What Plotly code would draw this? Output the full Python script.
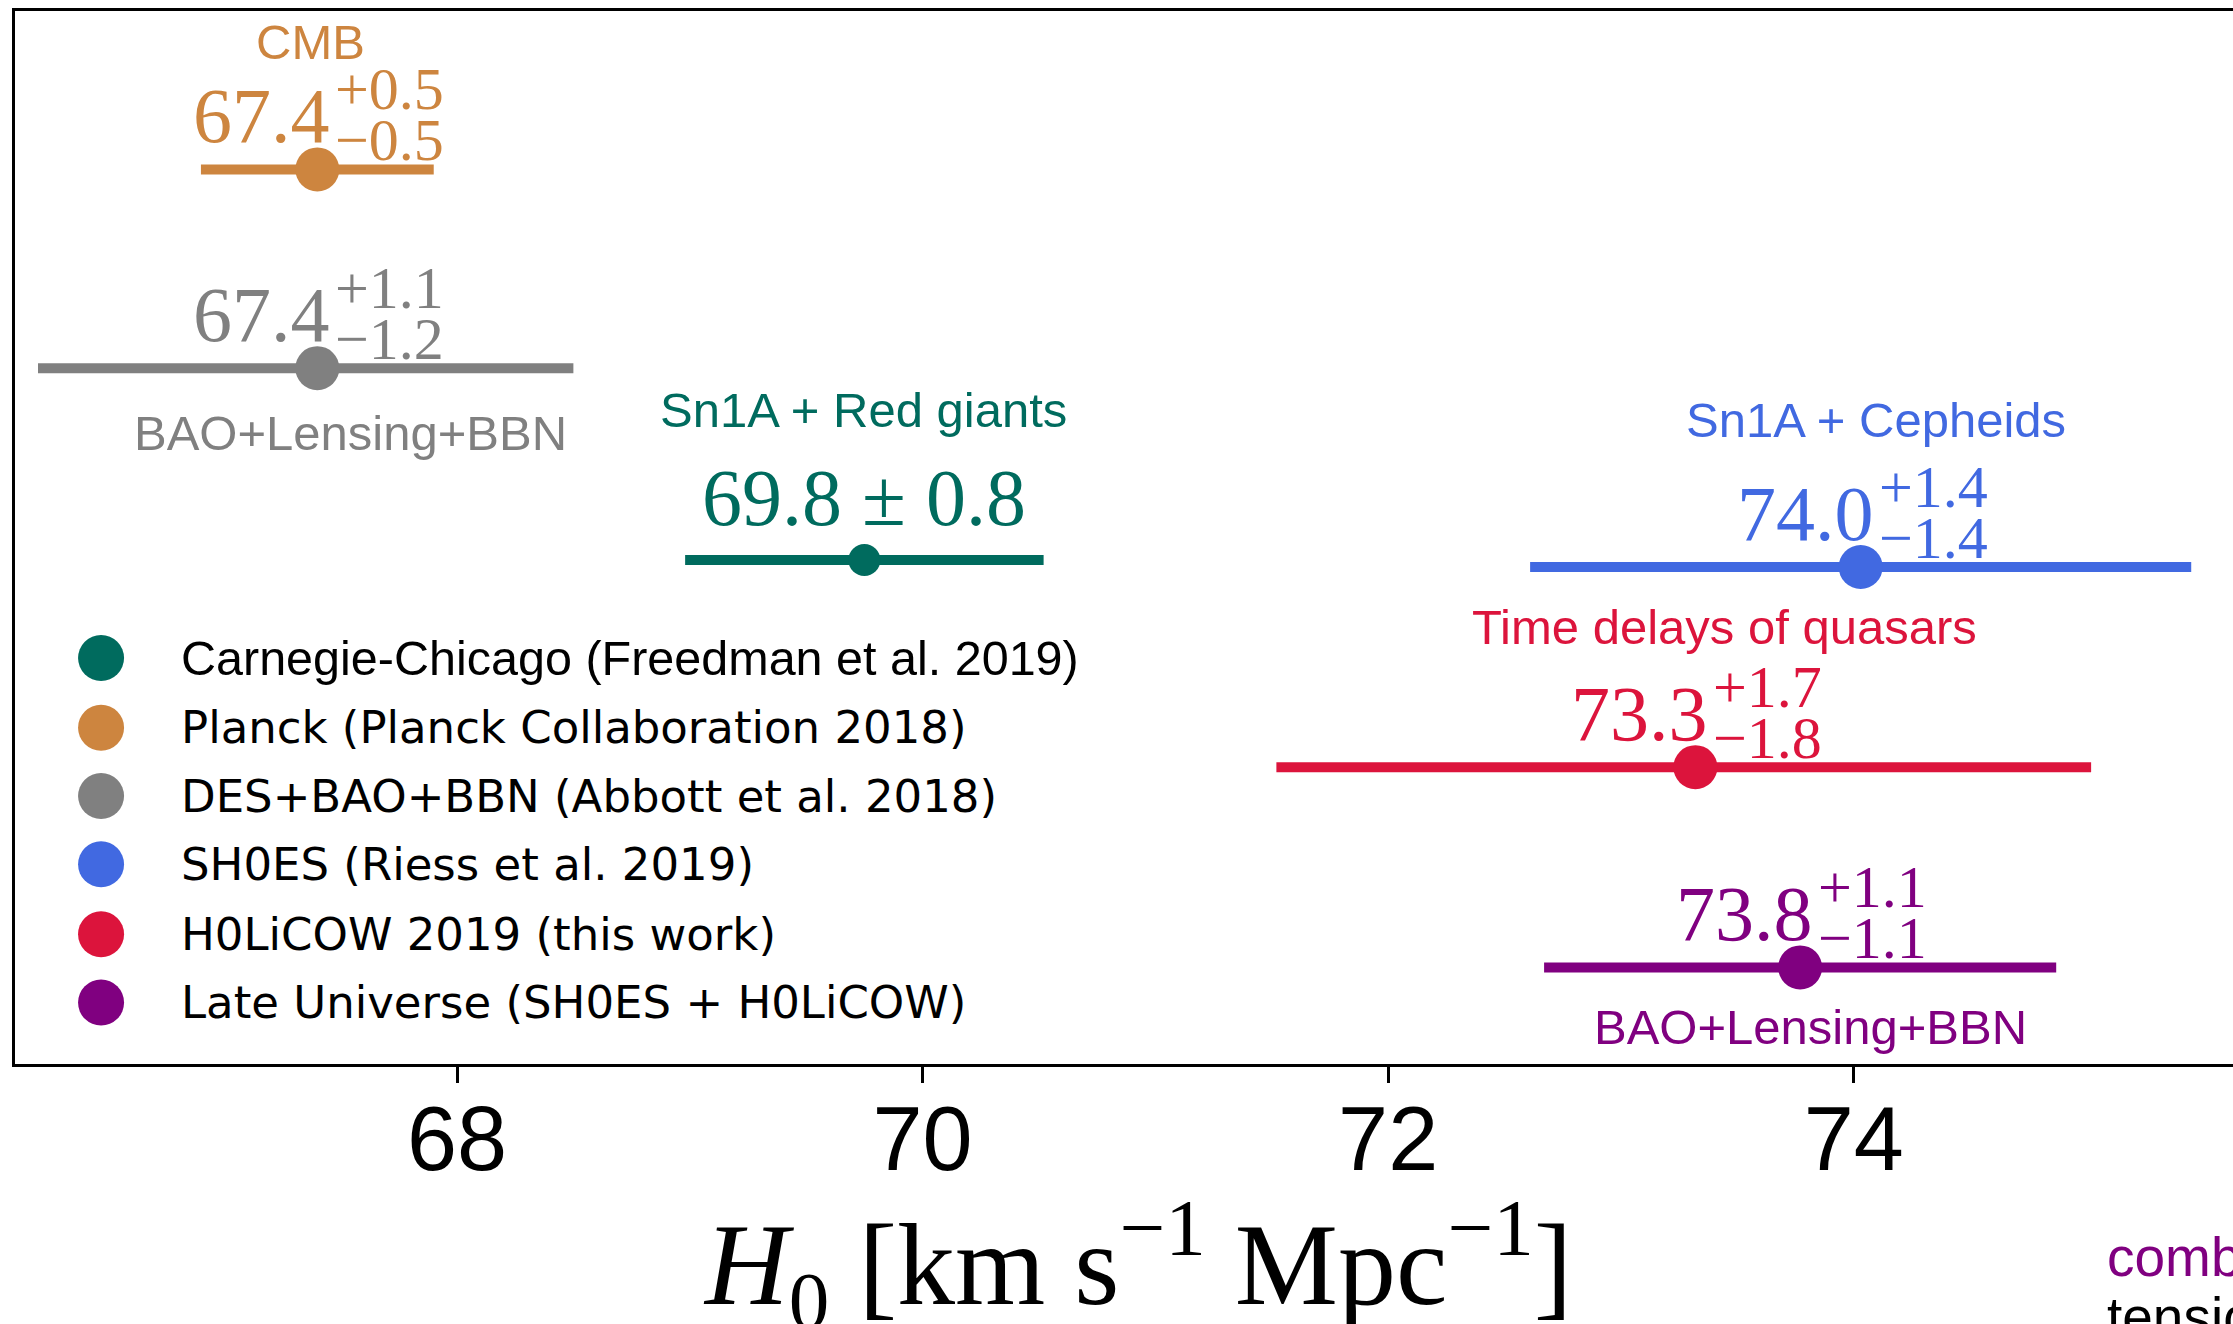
import plotly.graph_objects as go

# ---------------- data ----------------
names = [
    "Carnegie-Chicago (Freedman et al. 2019)",
    "Planck (Planck Collaboration 2018)",
    "DES+BAO+BBN (Abbott et al. 2018)",
    "SH0ES (Riess et al. 2019)",
    "H0LiCOW 2019 (this work)",
    "Late Universe (SH0ES + H0LiCOW)",
]
probes = [
    "Sn1A + Red giants",
    "CMB",
    "BAO+Lensing+BBN",
    "Sn1A + Cepheids",
    "Time delays of quasars",
    "BAO+Lensing+BBN",
]
h0 = [69.75, 67.4, 67.4, 74.03, 73.32, 73.77]
err_plus = [0.77, 0.5, 1.1, 1.42, 1.7, 1.1]
err_minus = [0.77, 0.5, 1.2, 1.42, 1.8, 1.1]
row_y = [3.60, 6.39, 4.97, 3.55, 2.12, 0.69]
value_main = ["69.8 ± 0.8", "67.4", "67.4", "74.0", "73.3", "73.8"]
value_sup = ["", "+0.5", "+1.1", "+1.4", "+1.7", "+1.1"]
value_sub = ["", "−0.5", "−1.2", "−1.4", "−1.8", "−1.1"]
colors = ["#006B5E", "#CD853F", "#808080", "#4169E1", "#DC143C", "#800080"]

xticks = [68, 70, 72, 74]

# ---------------- style ----------------
marker_sizes = [32, 44, 44, 44, 44, 44]
# probe-label offsets (px) relative to the point
probe_shift = [(-1, 150), (-7, 127), (33, -65), (15, 147), (29, 140), (10, -60)]

fig = go.Figure()

for i in range(len(names)):
    fig.add_trace(go.Scatter(
        x=[h0[i]], y=[row_y[i]], mode="markers",
        marker=dict(size=marker_sizes[i], color=colors[i]),
        error_x=dict(type="data", symmetric=False, array=[err_plus[i]],
                     arrayminus=[err_minus[i]], color=colors[i],
                     thickness=10, width=0),
        showlegend=False, hoverinfo="skip",
    ))

# manual legend on an overlay axis
leg_y = [0.3856, 0.3194, 0.2545, 0.1896, 0.1233, 0.0583]
fig.add_trace(go.Scatter(
    x=[0.0388] * len(names), y=leg_y, mode="markers",
    marker=dict(size=46, color=colors),
    xaxis="x2", yaxis="y2", showlegend=False, hoverinfo="skip",
))

annotations = []
for i in range(len(names)):
    annotations.append(dict(
        x=0.0739, y=leg_y[i], xref="paper", yref="paper",
        text=names[i], showarrow=False, xanchor="left", yanchor="middle",
        font=dict(family="Liberation Sans" if i == 0 else "DejaVu Sans",
                  size=48.5 if i == 0 else 45, color="black"),
    ))
    dx, dy = probe_shift[i]
    annotations.append(dict(
        x=h0[i], y=row_y[i], xref="x", yref="y", text=probes[i],
        showarrow=False, xanchor="center", yanchor="middle",
        xshift=dx, yshift=dy,
        font=dict(family="Liberation Sans", size=49, color=colors[i]),
    ))
    if value_sup[i]:
        annotations.append(dict(
            x=h0[i], y=row_y[i], xref="x", yref="y", text=value_main[i],
            showarrow=False, xanchor="right", yanchor="middle",
            xshift=15, yshift=54,
            font=dict(family="Liberation Serif", size=78, color=colors[i]),
        ))
        annotations.append(dict(
            x=h0[i], y=row_y[i], xref="x", yref="y", text=value_sup[i],
            showarrow=False, xanchor="left", yanchor="middle",
            xshift=16, yshift=80,
            font=dict(family="Liberation Serif", size=60, color=colors[i]),
        ))
        annotations.append(dict(
            x=h0[i], y=row_y[i], xref="x", yref="y", text=value_sub[i],
            showarrow=False, xanchor="left", yanchor="middle",
            xshift=16, yshift=29,
            font=dict(family="Liberation Serif", size=60, color=colors[i]),
        ))
    else:
        annotations.append(dict(
            x=h0[i], y=row_y[i], xref="x", yref="y", text=value_main[i],
            showarrow=False, xanchor="center", yanchor="middle",
            yshift=62,
            font=dict(family="Liberation Serif", size=80, color=colors[i]),
        ))

# axis title
annotations.append(dict(
    x=0.506, y=-0.19, xref="paper", yref="paper",
    text="<i>H</i><sub>0</sub> [km s<sup>−1</sup> Mpc<sup>−1</sup>]",
    showarrow=False, xanchor="center", yanchor="middle",
    font=dict(family="Liberation Serif", size=116, color="black"),
))
# cropped side notes
annotations.append(dict(
    x=0.9423, y=-0.183, xref="paper", yref="paper", text="combined",
    showarrow=False, xanchor="left", yanchor="middle",
    font=dict(family="Liberation Sans", size=55, color="#800080"),
))
annotations.append(dict(
    x=0.9423, y=-0.240, xref="paper", yref="paper", text="tension",
    showarrow=False, xanchor="left", yanchor="middle",
    font=dict(family="Liberation Sans", size=55, color="black"),
))

fig.update_layout(
    width=2233, height=1324,
    margin=dict(l=15, r=0, t=11, b=260, pad=0),
    paper_bgcolor="white", plot_bgcolor="white",
    xaxis=dict(range=[66.1012, 75.6295], tickvals=xticks,
               ticktext=[str(t) for t in xticks],
               ticks="outside", ticklen=16, tickwidth=3, tickcolor="black",
               ticklabelstandoff=-21,
               showline=True, linewidth=3, linecolor="black", mirror=True,
               showgrid=False, zeroline=False,
               tickfont=dict(family="Liberation Sans", size=90, color="black")),
    yaxis=dict(range=[0, 7.5214], showline=True, linewidth=3,
               linecolor="black", mirror=False, showgrid=False,
               zeroline=False, showticklabels=False, ticks=""),
    xaxis2=dict(range=[0, 1], overlaying="x", visible=False),
    yaxis2=dict(range=[0, 1], overlaying="y", visible=False),
    annotations=annotations,
    showlegend=False,
)

fig.write_html("out.html")
